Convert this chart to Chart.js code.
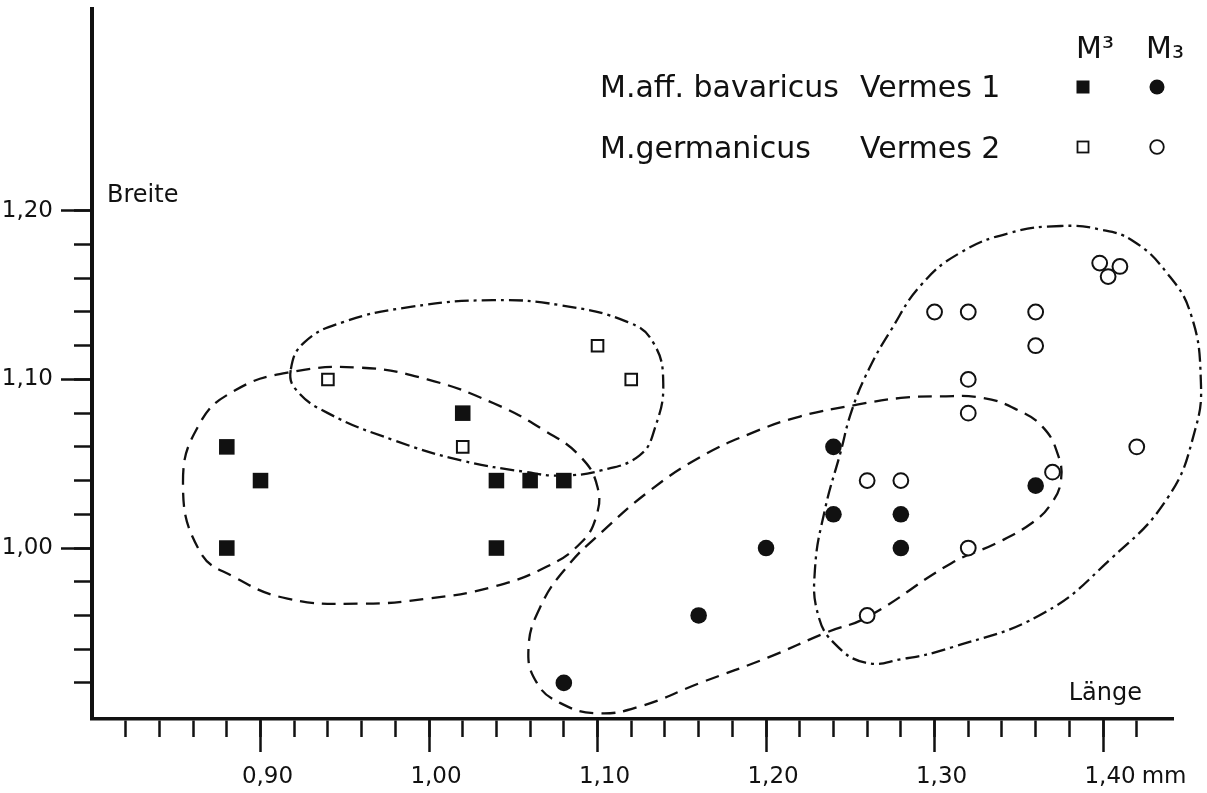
<!DOCTYPE html>
<html>
<head>
<meta charset="utf-8">
<title>Vermes 1 / Vermes 2 – Länge und Breite von M³ und M₃</title>
<script src="https://cdn.jsdelivr.net/npm/chart.js@4.4.1/dist/chart.umd.min.js"></script>
<style>
  html, body { margin: 0; padding: 0; background: #fff; }
  #chart { display: block; }
</style>
</head>
<body>
<canvas id="chart" width="1207" height="793"></canvas>
<script>
// Länge (x, mm) / Breite (y, mm)
const vermes1Upper = [[0.88, 1.06], [0.90, 1.04], [0.88, 1.00], [1.02, 1.08], [1.04, 1.04], [1.06, 1.04], [1.08, 1.04], [1.04, 1.00]];
const vermes2Upper = [[0.94, 1.10], [1.02, 1.06], [1.10, 1.12], [1.12, 1.10]];
const vermes1Lower = [[1.08, 0.92], [1.16, 0.96], [1.20, 1.00], [1.24, 1.02], [1.24, 1.06], [1.28, 1.00], [1.28, 1.02], [1.36, 1.037]];
const vermes2Lower = [[1.26, 0.96], [1.26, 1.04], [1.28, 1.04], [1.32, 1.00], [1.32, 1.08], [1.32, 1.10], [1.30, 1.14],
  [1.32, 1.14], [1.36, 1.14], [1.36, 1.12], [1.37, 1.045], [1.42, 1.06], [1.398, 1.169], [1.41, 1.167], [1.403, 1.161]];

// hand drawn outlines round each group (same units)
const outlineVermes1Upper = [[0.854, 1.039], [0.864, 1.074], [0.884, 1.093], [0.916, 1.104], [0.959, 1.107], [0.999, 1.100],
  [1.038, 1.086], [1.068, 1.070], [1.090, 1.054], [1.100, 1.036], [1.099, 1.018], [1.090, 1.003], [1.070, 0.989],
  [1.038, 0.977], [0.999, 0.970], [0.959, 0.967], [0.916, 0.970], [0.884, 0.983], [0.864, 0.998]];
const outlineVermes2Upper = [[0.918, 1.106], [0.926, 1.122], [0.949, 1.134], [0.989, 1.143], [1.038, 1.147], [1.078, 1.144],
  [1.118, 1.134], [1.133, 1.122], [1.139, 1.098], [1.134, 1.071], [1.125, 1.055], [1.102, 1.046], [1.078, 1.043],
  [1.058, 1.045], [1.019, 1.052], [0.979, 1.064], [0.940, 1.080], [0.921, 1.094]];
const outlineVermes1Lower = [[1.066, 0.965], [1.059, 0.940], [1.064, 0.920], [1.078, 0.908], [1.100, 0.902], [1.125, 0.906],
  [1.161, 0.920], [1.201, 0.935], [1.236, 0.950], [1.260, 0.959], [1.310, 0.991], [1.337, 1.003], [1.358, 1.015],
  [1.369, 1.026], [1.375, 1.040], [1.373, 1.056], [1.364, 1.072], [1.349, 1.082], [1.329, 1.089], [1.303, 1.090],
  [1.280, 1.089], [1.254, 1.085], [1.220, 1.078], [1.191, 1.068], [1.161, 1.054], [1.131, 1.034], [1.102, 1.009], [1.082, 0.989]];
const outlineVermes2Lower = [[1.375, 1.191], [1.345, 1.187], [1.315, 1.175], [1.292, 1.156], [1.274, 1.129], [1.261, 1.106],
  [1.251, 1.082], [1.244, 1.056], [1.235, 1.023], [1.229, 0.987], [1.231, 0.960], [1.241, 0.943], [1.259, 0.932],
  [1.280, 0.934], [1.310, 0.941], [1.364, 0.961], [1.404, 0.993], [1.4385, 1.030], [1.4546, 1.070],
  [1.458, 1.100], [1.452, 1.139], [1.438, 1.163], [1.418, 1.182], [1.398, 1.189]];

// axis ticks and labels
const xTicks = [0.82, 0.84, 0.86, 0.88, 0.90, 0.92, 0.94, 0.96, 0.98, 1.00, 1.02, 1.04, 1.06, 1.08, 1.10, 1.12,
  1.14, 1.16, 1.18, 1.20, 1.22, 1.24, 1.26, 1.28, 1.30, 1.32, 1.34, 1.36, 1.38, 1.40, 1.42];
const xMajorTicks = [0.90, 1.00, 1.10, 1.20, 1.30, 1.40];
const xLabels = ['0,90', '1,00', '1,10', '1,20', '1,30', '1,40'];
const yTicks = [0.92, 0.94, 0.96, 0.98, 1.00, 1.02, 1.04, 1.06, 1.08, 1.10, 1.12, 1.14, 1.16, 1.18, 1.20];
const yMajorTicks = [1.00, 1.10, 1.20];
const yLabels = ['1,00', '1,10', '1,20'];

const legendSpecies = ['M.aff. bavaricus', 'M.germanicus'];
const legendSites = ['Vermes 1', 'Vermes 2'];

const ink = '#111';
const fontFamily = '"DejaVu Sans", sans-serif';

const toXY = pts => pts.map(([x, y]) => ({ x, y }));

// closed smooth outline: wrap the ring so every drawn piece has neighbours,
// and hide the two extra pieces at the ends
function outlineDataset(pts, dash) {
  const n = pts.length;
  return {
    data: toXY([pts[n - 1], ...pts, pts[0], pts[1]]),
    showLine: true,
    tension: 0.45,
    borderColor: ink,
    borderWidth: 2.3,
    borderDash: dash,
    pointRadius: 0,
    pointHoverRadius: 0,
    clip: false,
    segment: {
      borderColor: c => (c.p0DataIndex === 0 || c.p0DataIndex === n + 1) ? 'rgba(0,0,0,0)' : ink
    }
  };
}

const dashed = [14, 8];
const dashDot = [14, 5, 3, 5];

function setTicks(values) {
  return scale => { scale.ticks = values.map(v => ({ value: v })); };
}

function fixSize(prop, size) {
  return scale => {
    scale[prop] = size;
    scale.paddingLeft = 0; scale.paddingRight = 0;
    scale.paddingTop = 0; scale.paddingBottom = 0;
  };
}

const xRange = { min: 0.80, max: 1.4415 };
const yRange = { min: 0.8986, max: 1.3197 };

const textPlugin = {
  id: 'texts',
  afterDraw(chart) {
    const ctx = chart.ctx;
    const xs = chart.scales.xMajor;
    const ys = chart.scales.y;
    ctx.save();
    ctx.fillStyle = ink;
    ctx.strokeStyle = ink;

    // axis names
    ctx.font = '24px ' + fontFamily;
    ctx.textAlign = 'left';
    ctx.textBaseline = 'alphabetic';
    ctx.fillText('Breite', chart.chartArea.left + 15, ys.getPixelForValue(1.205));
    ctx.textAlign = 'right';
    ctx.fillText('Länge', chart.chartArea.right - 31, chart.chartArea.bottom - 19);

    // unit after the last x label
    ctx.font = '23px ' + fontFamily;
    ctx.textAlign = 'left';
    ctx.textBaseline = 'middle';
    const last = xMajorTicks[xMajorTicks.length - 1];
    const lx = xs.getPixelForValue(last) + 7 + ctx.measureText(xLabels[xLabels.length - 1]).width / 2 + 6;
    ctx.fillText('mm', lx, xs.top + 33 + 11 + 23 * 1.2 / 2);

    // legend table
    const colSq = 1083, colCirc = 1157;
    ctx.font = '30px ' + fontFamily;
    ctx.textBaseline = 'alphabetic';
    ctx.fillText('M³', 1076, 58);
    ctx.fillText('M₃', 1146, 58);
    const rows = [97, 158];
    rows.forEach((base, i) => {
      ctx.fillText(legendSpecies[i], 600, base);
      ctx.fillText(legendSites[i], 860, base);
    });
    // markers
    const my1 = 87, my2 = 147;
    ctx.fillRect(colSq - 6.5, my1 - 6.5, 13, 13);
    ctx.beginPath(); ctx.arc(colCirc, my1, 7.5, 0, Math.PI * 2); ctx.fill();
    ctx.lineWidth = 1.8;
    ctx.strokeRect(colSq - 5.5, my2 - 5.5, 11, 11);
    ctx.beginPath(); ctx.arc(colCirc, my2, 6.8, 0, Math.PI * 2); ctx.stroke();
    ctx.restore();
  }
};

new Chart(document.getElementById('chart'), {
  type: 'scatter',
  data: {
    datasets: [
      { label: 'M₃ Vermes 2', data: toXY(vermes2Lower), pointStyle: 'circle', pointRadius: 7.4,
        backgroundColor: '#fff', borderColor: ink, borderWidth: 2, clip: false },
      { label: 'M₃ Vermes 1', data: toXY(vermes1Lower), pointStyle: 'circle', pointRadius: 8.3,
        backgroundColor: ink, borderWidth: 0, clip: false },
      { label: 'M³ Vermes 2', data: toXY(vermes2Upper), pointStyle: 'rect', pointRadius: 8.2,
        backgroundColor: '#fff', borderColor: ink, borderWidth: 2, clip: false },
      { label: 'M³ Vermes 1', data: toXY(vermes1Upper), pointStyle: 'rect', pointRadius: 11,
        backgroundColor: ink, borderWidth: 0, clip: false },
      outlineDataset(outlineVermes1Upper, dashed),
      outlineDataset(outlineVermes2Upper, dashDot),
      outlineDataset(outlineVermes1Lower, dashed),
      outlineDataset(outlineVermes2Lower, dashDot)
    ]
  },
  options: {
    responsive: false,
    animation: false,
    devicePixelRatio: 1,
    events: [],
    layout: { padding: { top: 9, right: 34, bottom: 0, left: 0 }, autoPadding: false },
    elements: { line: { capBezierPoints: false } },
    plugins: { legend: { display: false }, tooltip: { enabled: false } },
    scales: {
      x: {
        type: 'linear', axis: 'x', position: 'bottom', weight: 0, ...xRange,
        afterBuildTicks: setTicks(xTicks),
        afterFit: fixSize('height', 0),
        border: { display: true, width: 3.5, color: ink },
        grid: { drawOnChartArea: false, drawTicks: true, tickLength: 18, tickWidth: 2.5, tickColor: ink },
        ticks: { display: false }
      },
      xMajor: {
        type: 'linear', axis: 'x', position: 'bottom', weight: 1, ...xRange,
        afterBuildTicks: setTicks(xMajorTicks),
        afterFit: fixSize('height', 74),
        border: { display: false },
        grid: { drawOnChartArea: false, drawTicks: true, tickLength: 33, tickWidth: 2.5, tickColor: ink },
        ticks: {
          autoSkip: false, maxRotation: 0, padding: 11, labelOffset: 7, color: ink,
          font: { family: fontFamily, size: 23 },
          callback: (v, i) => xLabels[i]
        }
      },
      y: {
        type: 'linear', axis: 'y', position: 'left', weight: 0, ...yRange,
        afterBuildTicks: setTicks(yTicks),
        afterFit: fixSize('width', 0),
        border: { display: true, width: 4, color: ink },
        grid: { drawOnChartArea: false, drawTicks: true, tickLength: 18, tickWidth: 2.5, tickColor: ink },
        ticks: { display: false }
      },
      yMajor: {
        type: 'linear', axis: 'y', position: 'left', weight: 1, ...yRange,
        afterBuildTicks: setTicks(yMajorTicks),
        afterFit: fixSize('width', 92),
        border: { display: false },
        grid: { drawOnChartArea: false, drawTicks: true, tickLength: 31, tickWidth: 2.5, tickColor: ink },
        ticks: {
          autoSkip: false, padding: 8, color: ink,
          font: { family: fontFamily, size: 23 },
          callback: (v, i) => yLabels[i]
        }
      }
    }
  },
  plugins: [textPlugin]
});
</script>
</body>
</html>
